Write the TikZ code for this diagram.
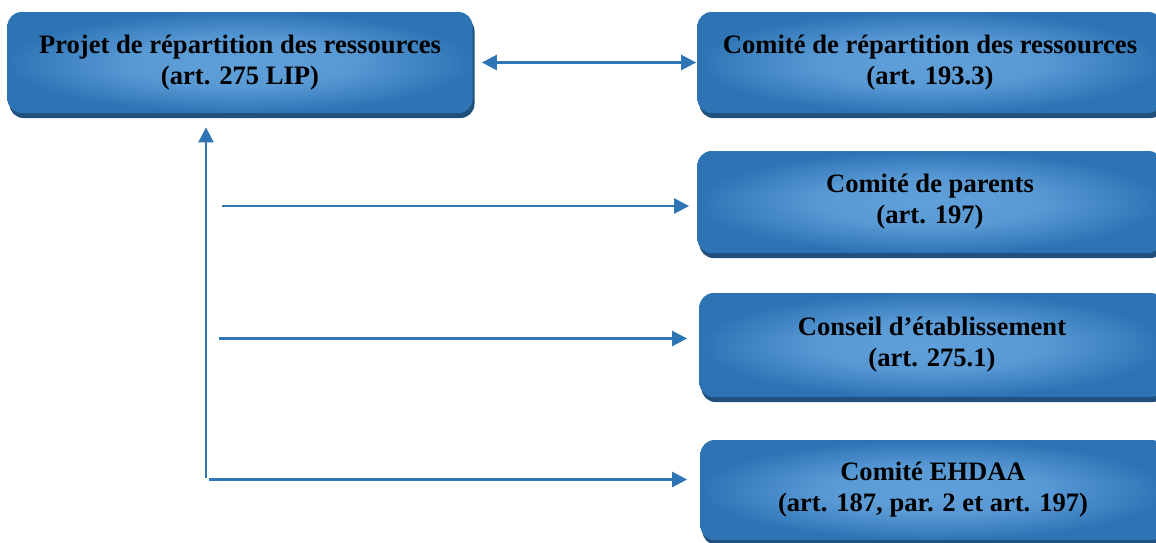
\documentclass[tikz,border=0pt]{standalone}
\usepackage{fontspec}
\setmainfont{Liberation Serif}
\usetikzlibrary{arrows.meta,shadows}
\definecolor{boxlight}{RGB}{96,160,218}
\definecolor{boxdark}{RGB}{46,116,181}
\definecolor{boxshadow}{RGB}{33,80,124}
\definecolor{connblue}{RGB}{46,117,182}
\pgfdeclareradialshading{boxshade}{\pgfpoint{0bp}{0bp}}{color(0bp)=(boxlight); color(12bp)=(boxlight!85!boxdark); color(25bp)=(boxdark); color(50bp)=(boxdark)}
\tikzset{
  box/.style={rounded corners=7pt, minimum width=232.5pt, minimum height=50.5pt,
    inner sep=0pt, align=center, font=\bfseries\fontsize{13.3pt}{15.5pt}\selectfont,
    text=black, shading=boxshade,
    general shadow={fill=boxshadow, shadow xshift=1pt, shadow yshift=-2.5pt}},
  conn/.style={draw=connblue, line width=1.3pt},
  tipend/.style={-{Triangle[length=7.5pt,width=7.5pt]}},
  tipboth/.style={{Triangle[length=7.5pt,width=7.5pt]}-{Triangle[length=7.5pt,width=7.5pt]}}
}
\begin{document}
\begin{tikzpicture}[x=0.5pt,y=-0.5pt]
\useasboundingbox (0,0) rectangle (1156,542);
\node[box] (p1) at (240,62.5) {Projet de répartition des ressources\\(art. 275 LIP)};
\node[box] (p2) at (930,62.5) {Comité de répartition des ressources\\(art. 193.3)};
\node[box, minimum height=51pt] (p3) at (930,202) {Comité de parents\\(art. 197)};
\node[box, minimum height=52pt] (p4) at (932,345) {Conseil d’établissement\\(art. 275.1)};
\node[box, minimum height=50pt] (p5) at (933,490) {Comité EHDAA\\(art. 187, par. 2 et art. 197)};
\coordinate (vb) at (206,478);
\coordinate (c3) at (222,206);
\coordinate (c4) at (219,338.5);
\coordinate (c5) at (209,479.5);
\draw[conn, tipboth, shorten <=4.5pt, shorten >=0.5pt] (p1.east) -- (p2.west);
\draw[conn, tipend, shorten >=7pt] (vb) -- (vb |- p1.south);
\draw[conn, tipend, shorten >=4pt] (c3) -- (c3 -| p3.west);
\draw[conn, tipend, shorten >=6pt] (c4) -- (c4 -| p4.west);
\draw[conn, tipend, shorten >=6.5pt] (c5) -- (c5 -| p5.west);
\end{tikzpicture}
\end{document}
